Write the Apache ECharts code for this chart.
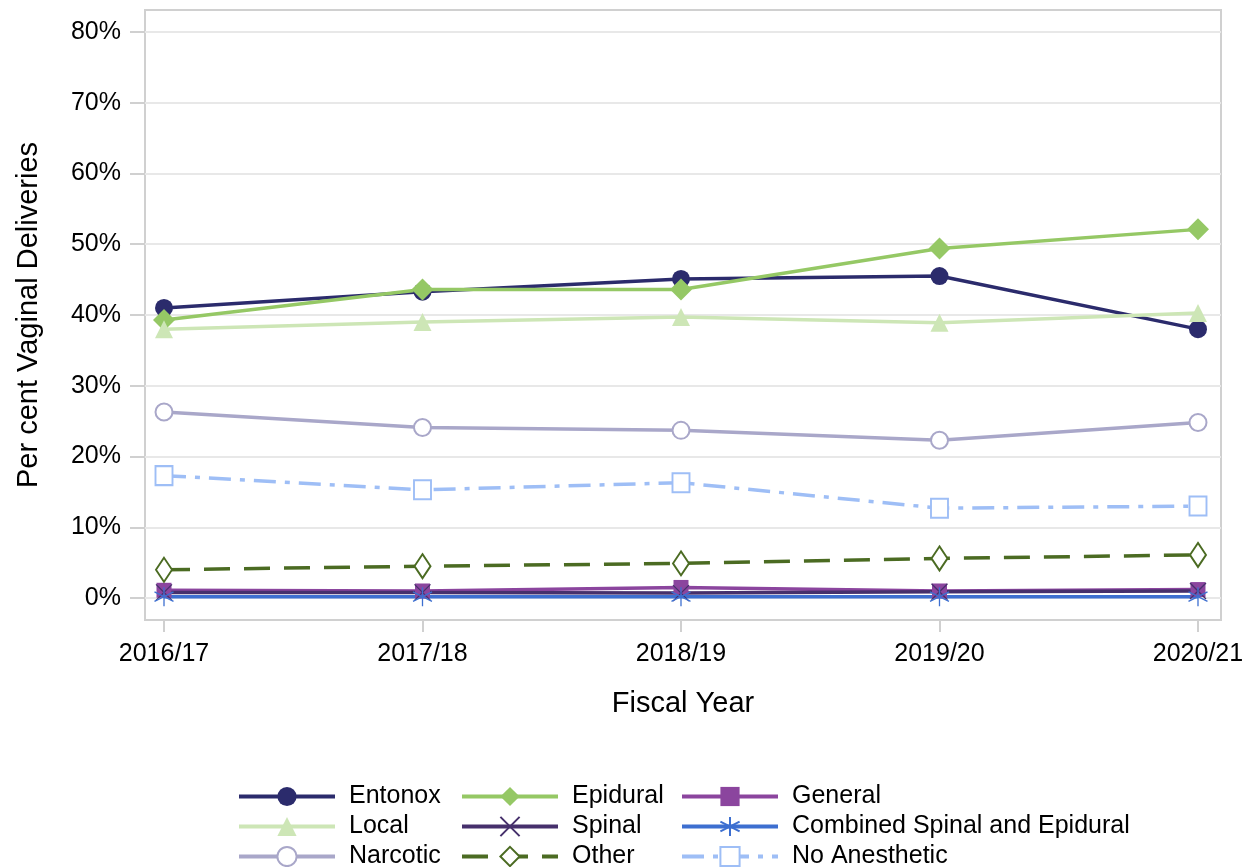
<!DOCTYPE html>
<html>
<head>
<meta charset="utf-8">
<script src="https://cdn.jsdelivr.net/npm/echarts@6/dist/echarts.min.js"></script>
<style>
html,body{margin:0;padding:0;background:#fff;}
#chart{width:1251px;height:867px;}
</style>
</head>
<body>
<div id="chart"></div>
<script>
// ---- data ----
const years = ['2016/17', '2017/18', '2018/19', '2019/20', '2020/21'];
const yTicks = [0, 10, 20, 30, 40, 50, 60, 70, 80];
const entonox = [41.0, 43.3, 45.1, 45.5, 38.0];
const epidural = [39.3, 43.6, 43.6, 49.4, 52.1];
const general = [1.1, 1.0, 1.5, 1.0, 1.2];
const local = [38.0, 39.0, 39.7, 38.9, 40.3];
const spinal = [0.8, 0.8, 0.7, 0.9, 1.0];
const combined = [0.2, 0.2, 0.2, 0.2, 0.2];
const narcotic = [26.3, 24.1, 23.7, 22.3, 24.8];
const other = [4.0, 4.5, 4.9, 5.6, 6.1];
const noAnesthetic = [17.3, 15.3, 16.3, 12.7, 13.0];

const FONT = "'Liberation Sans', Arial, sans-serif";
const xSymbol = 'path://M0,0L10,10M10,0L0,10';
const starSymbol = 'path://M5,0L5,10M0.67,2.5L9.33,7.5M9.33,2.5L0.67,7.5';

function pts(arr) { return arr.map((v, i) => [i, v]); }

function mk(name, data, color, symbol, size, opts) {
  opts = opts || {};
  return {
    name: name,
    type: 'line',
    data: pts(data),
    symbol: symbol,
    symbolSize: size,
    showAllSymbol: true,
    lineStyle: { color: color, width: 3.5, type: opts.lineType || 'solid' },
    itemStyle: {
      color: color,
      borderColor: color,
      borderWidth: opts.bw != null ? opts.bw : 0
    },
    emphasis: { disabled: true },
    animation: false,
    z: 3
  };
}

const series = [
  mk('Entonox', entonox, '#2b2b6c', 'circle', 18),
  mk('Epidural', epidural, '#95c865', 'diamond', 22),
  mk('General', general, '#8b459e', 'rect', 15),
  mk('Local', local, '#cde6b6', 'triangle', 18),
  mk('Spinal', spinal, '#46306c', xSymbol, 16, { bw: 1.3 }),
  mk('Combined Spinal and Epidural', combined, '#3d6fd0', starSymbol, 19, { bw: 1.3 }),
  mk('Narcotic', narcotic, '#a9a7c9', 'emptyCircle', 17, { bw: 1 }),
  mk('Other', other, '#4b6b22', 'emptyDiamond', [16, 24], { bw: 1, lineType: [26, 14] }),
  mk('No Anesthetic', noAnesthetic, '#9ebef6', 'emptyRect', [17, 19], { bw: 1, lineType: [22, 9, 5, 9] })
];

function legendCol(left, names) {
  return {
    orient: 'vertical',
    left: left,
    top: 784,
    height: 100,
    padding: 0,
    itemWidth: 96,
    itemHeight: 24,
    itemGap: 5,
    selectedMode: false,
    data: names,
    lineStyle: { width: 4 },
    textStyle: { fontFamily: FONT, fontSize: 25, color: '#000', padding: [0, 0, 0, 9] }
  };
}

const option = {
  backgroundColor: '#ffffff',
  animation: false,
  grid: {
    left: 145, right: 30, top: 10, bottom: 247,
    show: true, borderColor: '#d0d0d0', borderWidth: 2, backgroundColor: '#ffffff',
    containLabel: false
  },
  xAxis: {
    type: 'value',
    min: -0.0735,
    max: 4.089,
    name: 'Fiscal Year',
    nameLocation: 'middle',
    nameGap: 69,
    nameTextStyle: { fontFamily: FONT, fontSize: 29, color: '#000' },
    axisLine: { show: false, onZero: false },
    axisTick: { show: true, length: 12, customValues: [0, 1, 2, 3, 4], lineStyle: { color: '#d0d0d0', width: 2 } },
    axisLabel: {
      customValues: [0, 1, 2, 3, 4],
      margin: 22,
      fontFamily: FONT, fontSize: 25, color: '#000',
      formatter: v => years[Math.round(v)]
    },
    splitLine: { show: false }
  },
  yAxis: {
    type: 'value',
    min: -3.1,
    max: 83.1,
    name: 'Per cent Vaginal Deliveries',
    nameLocation: 'middle',
    nameRotate: 90,
    nameGap: 102,
    nameTextStyle: { fontFamily: FONT, fontSize: 29, color: '#000' },
    axisLine: { show: false, onZero: false },
    axisTick: { show: true, length: 15, customValues: yTicks, lineStyle: { color: '#d0d0d0', width: 2 } },
    axisLabel: {
      customValues: yTicks,
      margin: 24,
      fontFamily: FONT, fontSize: 25, color: '#000',
      formatter: v => v + '%'
    },
    splitLine: { show: true, lineStyle: { color: '#e8e8e8', width: 2 } }
  },
  legend: [
    legendCol(237, ['Entonox', 'Local', 'Narcotic']),
    legendCol(460, ['Epidural', 'Spinal', 'Other']),
    legendCol(680, ['General', 'Combined Spinal and Epidural', 'No Anesthetic'])
  ],
  series: series
};

const chart = echarts.init(document.getElementById('chart'), null, { renderer: 'canvas' });
chart.setOption(option);
</script>
</body>
</html>
